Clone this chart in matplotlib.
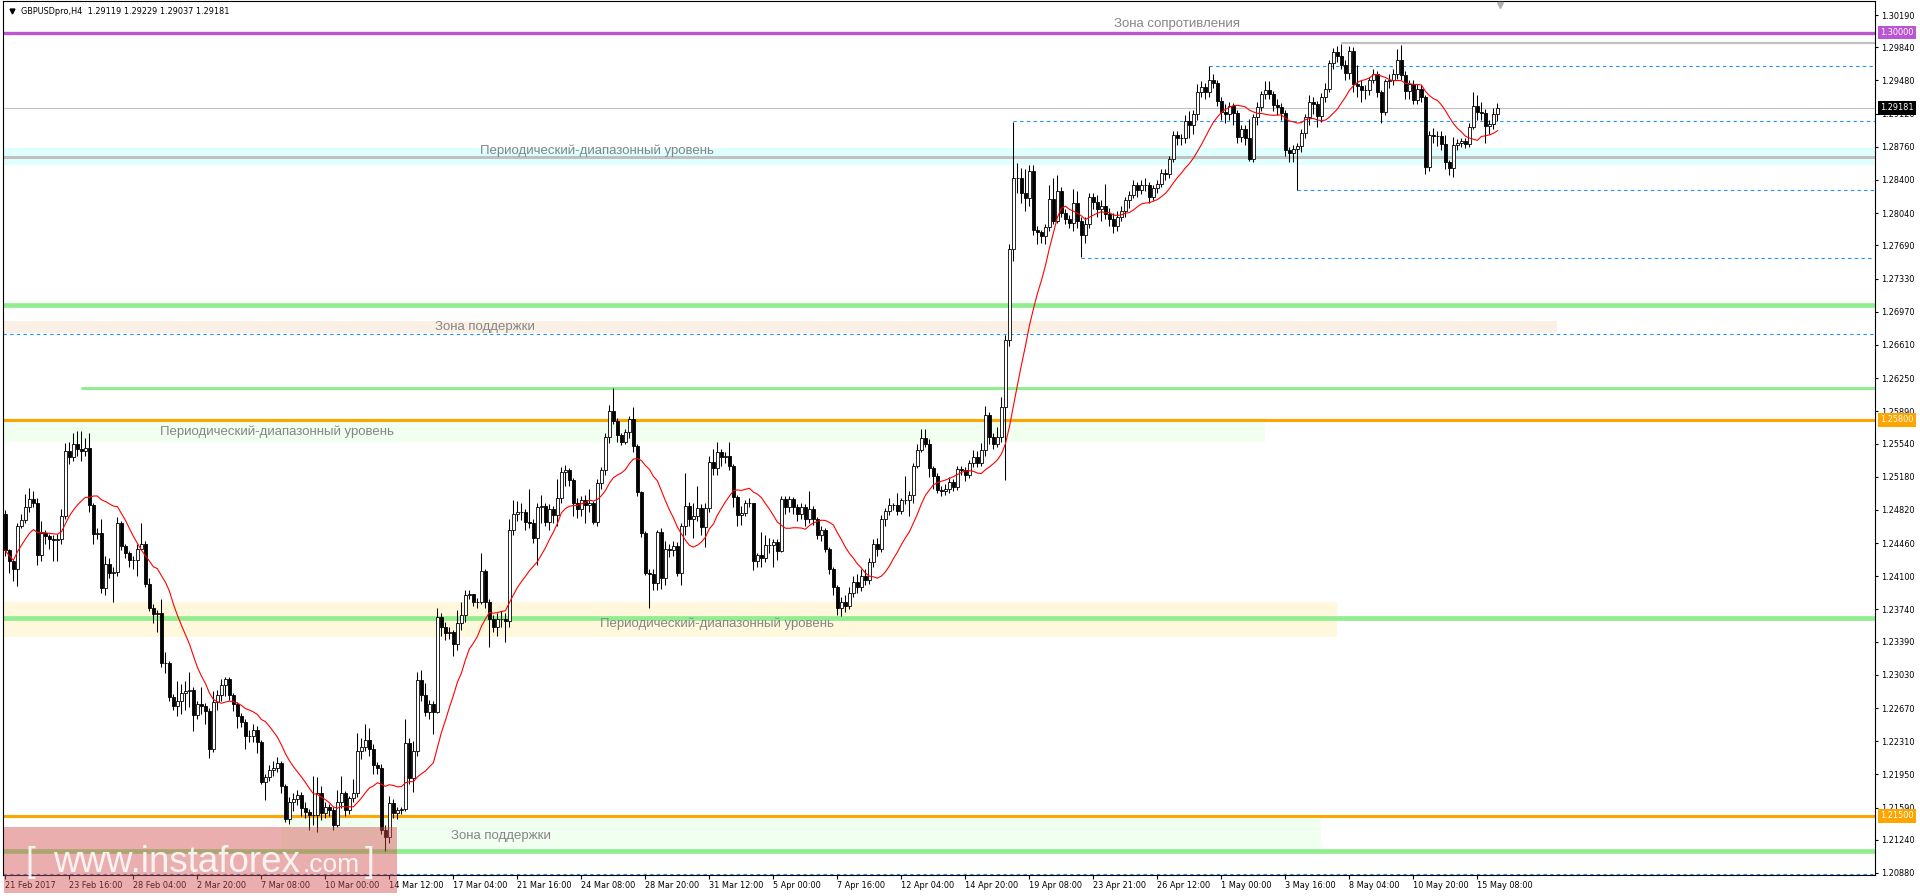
import numpy as np
import pandas as pd
import matplotlib
matplotlib.use("Agg")
import matplotlib.pyplot as plt
from matplotlib.patches import Rectangle
from matplotlib.lines import Line2D
from matplotlib.transforms import blended_transform_factory, ScaledTranslation

# ---- data (prices in pips above 1.2000) ----
BASE = 1.2
PIP = 0.0001

first_open = 478
closes = [
    438, 426, 418, 464, 471, 485, 494, 489, 433, 457,
    454, 450, 449, 450, 475, 546, 539, 553, 548, 546,
    549, 487, 456, 457, 397, 423, 414, 415, 468, 443,
    435, 428, 428, 440, 445, 402, 376, 369, 370, 316,
    316, 279, 269, 275, 283, 285, 287, 259, 271, 269,
    264, 223, 273, 281, 292, 298, 281, 271, 258, 252,
    237, 237, 243, 230, 187, 192, 200, 202, 207, 182,
    147, 165, 168, 173, 158, 154, 151, 151, 175, 153,
    160, 156, 140, 165, 175, 156, 169, 175, 220, 225,
    232, 223, 205, 202, 135, 127, 164, 153, 156, 157,
    229, 191, 220, 297, 281, 263, 271, 263, 366, 355,
    348, 350, 337, 359, 368, 390, 391, 382, 382, 416,
    382, 364, 355, 364, 364, 361, 460, 478, 480, 480,
    469, 468, 451, 485, 486, 469, 483, 476, 495, 523,
    525, 514, 489, 483, 493, 487, 490, 469, 511, 525,
    561, 589, 578, 563, 556, 566, 581, 551, 501, 457,
    414, 412, 403, 458, 408, 440, 438, 443, 414, 464,
    486, 472, 475, 484, 463, 484, 534, 527, 545, 539,
    540, 530, 496, 476, 479, 489, 490, 426, 433, 430,
    444, 444, 447, 437, 494, 485, 494, 485, 478, 485,
    472, 483, 472, 455, 460, 440, 418, 398, 375, 382,
    378, 392, 404, 398, 410, 406, 425, 445, 440, 472,
    481, 487, 487, 481, 493, 493, 498, 530, 547, 560,
    554, 527, 519, 504, 503, 505, 512, 507, 526, 525,
    520, 533, 539, 533, 547, 585, 561, 554, 561, 594,
    666, 765, 842, 842, 826, 820, 850, 786, 784, 779,
    789, 819, 796, 828, 804, 798, 793, 815, 795, 780,
    792, 822, 816, 808, 812, 803, 798, 790, 800, 806,
    818, 824, 835, 829, 835, 835, 822, 831, 836, 848,
    846, 863, 889, 886, 885, 904, 900, 912, 935, 941,
    935, 949, 945, 926, 914, 912, 920, 913, 887, 895,
    886, 863, 908, 919, 933, 938, 933, 921, 919, 913,
    872, 869, 874, 877, 891, 908, 925, 922, 909, 930,
    939, 967, 979, 975, 965, 956, 980, 944, 942, 938,
    938, 949, 955, 935, 914, 947, 948, 955, 970, 954,
    936, 944, 927, 939, 930, 854, 889, 888, 888, 879,
    860, 853, 878, 880, 882, 879, 898, 920, 914, 913,
    899, 901, 912, 918,
]
highs = [
    482, 440, 428, 468, 478, 499, 506, 502, 495, 470,
    460, 456, 455, 456, 483, 555, 556, 565, 568, 568,
    560, 565, 490, 462, 472, 432, 430, 420, 474, 470,
    445, 437, 432, 445, 468, 448, 408, 380, 373, 385,
    328, 318, 282, 296, 293, 296, 306, 290, 275, 290,
    272, 267, 285, 287, 298, 301, 301, 283, 273, 262,
    255, 243, 250, 248, 232, 195, 205, 210, 214, 209,
    185, 170, 175, 178, 176, 165, 157, 193, 192, 182,
    165, 163, 160, 178, 193, 177, 172, 190, 240, 234,
    250, 245, 228, 208, 206, 140, 172, 168, 160, 160,
    255, 234, 231, 306, 308, 294, 276, 275, 375, 370,
    360, 355, 352, 373, 382, 395, 395, 391, 386, 435,
    418, 385, 368, 370, 372, 370, 472, 493, 492, 490,
    483, 505, 472, 489, 498, 490, 488, 486, 516, 529,
    531, 527, 517, 495, 497, 498, 505, 492, 515, 529,
    565, 596, 614, 582, 565, 570, 584, 594, 554, 503,
    459, 418, 418, 460, 462, 448, 445, 448, 447, 468,
    522, 491, 490, 508, 488, 490, 540, 548, 556, 548,
    545, 556, 532, 498, 486, 493, 495, 490, 435, 458,
    455, 452, 450, 450, 497, 497, 497, 496, 488, 490,
    488, 503, 486, 474, 465, 462, 442, 420, 400, 388,
    390, 398, 410, 412, 418, 418, 430, 450, 452, 476,
    484, 495, 490, 500, 495, 519, 502, 533, 554, 570,
    570, 559, 530, 522, 508, 510, 518, 516, 530, 530,
    528, 536, 547, 546, 555, 595, 588, 565, 572, 605,
    672, 771, 903, 858, 853, 852, 856, 856, 790, 786,
    792, 834, 842, 845, 832, 808, 802, 830, 828, 800,
    800, 826, 826, 824, 818, 836, 810, 804, 806, 812,
    822, 828, 840, 838, 840, 842, 838, 835, 840, 852,
    852, 866, 893, 893, 890, 910, 915, 916, 944, 947,
    945, 964, 955, 948, 930, 922, 925, 924, 916, 900,
    900, 906, 912, 925, 936, 947, 947, 937, 928, 924,
    916, 876, 878, 880, 895, 912, 932, 930, 926, 934,
    945, 970, 983, 985, 988, 970, 985, 984, 965, 948,
    943, 952, 960, 958, 938, 950, 955, 960, 982, 986,
    958, 948, 948, 944, 943, 932, 893, 896, 893, 893,
    889, 862, 887, 884, 886, 886, 902, 935, 932, 925,
    917, 905, 918, 923,
]
lows = [
    432, 414, 405, 399, 462, 468, 480, 485, 422, 426,
    445, 440, 426, 426, 445, 472, 532, 535, 540, 535,
    540, 480, 445, 450, 392, 390, 408, 382, 410, 438,
    430, 420, 418, 410, 438, 398, 372, 359, 349, 312,
    305, 275, 265, 258, 260, 265, 268, 242, 255, 260,
    250, 213, 219, 265, 275, 280, 276, 264, 245, 246,
    222, 230, 230, 218, 185, 167, 188, 193, 198, 175,
    143, 141, 155, 162, 150, 148, 135, 140, 133, 145,
    148, 150, 135, 138, 158, 150, 152, 165, 170, 212,
    220, 215, 195, 195, 130, 112, 120, 148, 147, 152,
    155, 185, 176, 215, 275, 258, 255, 239, 262, 345,
    341, 342, 323, 330, 352, 360, 385, 378, 376, 380,
    375, 333, 350, 345, 355, 339, 355, 455, 470, 471,
    460, 462, 446, 422, 468, 464, 460, 468, 465, 490,
    508, 508, 475, 473, 475, 468, 480, 467, 465, 505,
    520, 555, 575, 556, 552, 553, 560, 545, 497, 453,
    411, 375, 395, 395, 396, 400, 431, 432, 410, 401,
    455, 465, 452, 470, 455, 442, 480, 520, 520, 530,
    533, 525, 485, 465, 466, 475, 485, 417, 420, 420,
    425, 435, 420, 428, 436, 478, 480, 478, 470, 472,
    465, 468, 466, 450, 448, 436, 412, 390, 368, 367,
    371, 374, 388, 392, 394, 400, 402, 420, 432, 436,
    465, 476, 482, 476, 478, 488, 475, 490, 527, 545,
    550, 518, 505, 500, 497, 498, 500, 502, 504, 520,
    513, 517, 529, 528, 530, 540, 553, 548, 550, 556,
    514, 660, 752, 826, 815, 806, 812, 780, 770, 772,
    771, 785, 792, 793, 800, 792, 788, 785, 788, 756,
    772, 788, 808, 800, 796, 798, 790, 782, 785, 795,
    800, 810, 820, 822, 825, 828, 815, 818, 826, 832,
    840, 842, 860, 878, 878, 880, 885, 890, 905, 930,
    928, 930, 940, 920, 905, 902, 905, 900, 880, 881,
    878, 861, 860, 900, 915, 928, 928, 915, 910, 905,
    866, 860, 860, 829, 870, 885, 900, 912, 898, 903,
    925, 935, 960, 968, 960, 948, 950, 935, 930, 925,
    928, 932, 945, 930, 902, 910, 940, 943, 950, 948,
    928, 928, 922, 922, 925, 847, 850, 880, 877, 872,
    852, 845, 843, 872, 876, 875, 876, 895, 905, 905,
    880, 890, 895, 904,
]

price_ticks = [1.30190, 1.29840, 1.29480, 1.29120, 1.28760, 1.28400, 1.28040,
               1.27690, 1.27330, 1.26970, 1.26610, 1.26250, 1.25890, 1.25540,
               1.25180, 1.24820, 1.24460, 1.24100, 1.23740, 1.23390, 1.23030,
               1.22670, 1.22310, 1.21950, 1.21590, 1.21240, 1.20880]

date_labels = ["21 Feb 2017", "23 Feb 16:00", "28 Feb 04:00", "2 Mar 20:00",
               "7 Mar 08:00", "10 Mar 00:00", "14 Mar 12:00", "17 Mar 04:00",
               "21 Mar 16:00", "24 Mar 08:00", "28 Mar 20:00", "31 Mar 12:00",
               "5 Apr 00:00", "7 Apr 16:00", "12 Apr 04:00", "14 Apr 20:00",
               "19 Apr 08:00", "23 Apr 21:00", "26 Apr 12:00", "1 May 00:00",
               "3 May 16:00", "8 May 04:00", "10 May 20:00", "15 May 08:00"]
bars_per_label = 16

header = "GBPUSDpro,H4  1.29119 1.29229 1.29037 1.29181"
last_price = 1.29181

# level lines drawn on the chart
resistance = 1.30000
orange_levels = [1.25800, 1.21500]
green_thick = [1.2704, 1.2365, 1.2112]
green_thin = 1.2614
grey_mid = 1.2865
grey_top = 1.2989
# dotted levels: (price, first bar)
dotted_prices = [1.2964, 1.2904, 1.2829, 1.2755, 1.2673, 1.2087]
dotted_starts = [301, 252, 323, 269, 0, 0]

assert len(closes) == len(highs) == len(lows)

c = BASE + np.array(closes) * PIP
h = BASE + np.array(highs) * PIP
l = BASE + np.array(lows) * PIP
o = np.r_[BASE + first_open * PIP, c[:-1]]
h = np.maximum(h, np.maximum(o, c))
l = np.minimum(l, np.minimum(o, c))
x = np.arange(len(c))
ma = pd.Series(c).rolling(14, min_periods=1).mean()

# ---- figure ----
W, H = 1920, 896
fig = plt.figure(figsize=(W / 100, H / 100), dpi=100, facecolor="white")
ax = fig.add_axes([3 / W, (H - 875) / H, (1875 - 3) / W, (875 - 1) / H])

scale = 0.00010851
ax.set_ylim(1.30190 - (875 - 15) * scale, 1.30190 + (15 - 1) * scale)
ax.set_xlim(-0.6, 467.4)
xmax = 467.4

# bands
ax.axhspan(1.2856, 1.2875, color="#E0FFFF", lw=0, zorder=0.5)
ax.fill_between([-0.6, 388], 1.2674, 1.2687, color="#FAF0E6", lw=0, zorder=0.5)
ax.fill_between([-0.6, 315], 1.2556, 1.2582, color="#F0FFF0", lw=0, zorder=0.5)
ax.fill_between([-0.6, 333], 1.2344, 1.2382, color="#FFF8DC", lw=0, zorder=0.5)
ax.fill_between([69, 329], 1.2112, 1.2149, color="#F0FFF0", lw=0, zorder=0.5)

# lines
ax.axhline(resistance, color="#BA55D3", lw=2.4, zorder=2)
for p in orange_levels:
    ax.axhline(p, color="#FFA500", lw=2.2, zorder=2)
for p in green_thick:
    ax.axhline(p, color="#90EE90", lw=3.4, zorder=2)
ax.hlines(green_thin, 19, xmax, color="#90EE90", lw=2.2, zorder=2)
ax.axhline(grey_mid, color="#C0C0C0", lw=2.2, zorder=2)
ax.hlines(grey_top, 334, xmax, color="#C0C0C0", lw=1.6, zorder=2)
ax.axhline(last_price, color="#C0C0C0", lw=0.8, zorder=2)
for p, s in zip(dotted_prices, dotted_starts):
    ax.hlines(p, s - 0.6 if s == 0 else s, xmax, color="#1E90FF", lw=0.8,
              linestyles=(0, (3, 3)), zorder=2)

# candles
up = c >= o
ax.vlines(x, l, h, color="black", lw=0.75, zorder=3)
ax.bar(x, c - o, bottom=o, width=0.6,
       color=np.where(up, "white", "black"), edgecolor="black",
       linewidth=0.6, zorder=4)
ax.plot(x, ma, color="red", lw=0.8, zorder=5)

# zone captions
tkw = dict(fontsize=9.5, color="#858585", family="Liberation Sans",
           ha="center", va="center", zorder=2.5)
ax.text(293, 1.30095, "Зона сопротивления", **tkw)
ax.text(148, 1.28714, "Периодический-диапазонный уровень", **tkw)
ax.text(120, 1.26805, "Зона поддержки", **tkw)
ax.text(68, 1.2567, "Периодический-диапазонный уровень", **tkw)
ax.text(178, 1.2358, "Периодический-диапазонный уровень", **tkw)
ax.text(124, 1.2128, "Зона поддержки", **tkw)

# axes styling
for sp in ax.spines.values():
    sp.set_linewidth(0.8)
    sp.set_color("black")
ax.yaxis.tick_right()
ax.set_yticks(price_ticks)
ax.set_yticklabels([f"{v:.5f}" for v in price_ticks])
ax.tick_params(axis="y", direction="out", length=2.5, width=0.8, pad=2,
               labelsize=5.9)
ax.set_xticks(np.arange(len(date_labels)) * bars_per_label)
ax.set_xticklabels(date_labels)
ax.tick_params(axis="x", direction="out", length=3, width=0.8, pad=1.5,
               labelsize=5.9)
plt.setp(ax.get_xticklabels(), ha="left")

# price boxes on the right scale
btrans = blended_transform_factory(ax.transAxes, ax.transData) + \
    ScaledTranslation(5 / 100, 0, fig.dpi_scale_trans)
for val, col in [(resistance, "#BA55D3"), (last_price, "black"),
                 (orange_levels[0], "#FFA500"), (orange_levels[1], "#FFA500")]:
    ax.text(1.0, val, f"{val:.5f}", transform=btrans, ha="left", va="center",
            fontsize=5.9, color="white", clip_on=False, zorder=10,
            bbox=dict(boxstyle="square,pad=0.3", fc=col, ec="none"))

# header
fig.add_artist(Line2D([12 / W], [1 - 11 / H], marker="v", color="black",
                      markersize=3.5, transform=fig.transFigure))
fig.text(21 / W, 1 - 11 / H, header, fontsize=5.9, va="center", ha="left")
fig.add_artist(Line2D([1500 / W], [1 - 5 / H], marker="v", color="#b0b0b0",
                      markersize=4, transform=fig.transFigure))

# watermark
fig.add_artist(Rectangle((4 / W, 3 / H), 393 / W, 66 / H,
                         transform=fig.transFigure, fc=(0.82, 0.3, 0.3),
                         alpha=0.45, ec="none", zorder=10))
wkw = dict(color="white", alpha=0.85, family="Liberation Sans",
           va="baseline", ha="left", zorder=11)
base_y = (H - 872) / H
fig.text(25 / W, base_y, "[", fontsize=25, **wkw)
fig.text(53 / W, base_y, "www.instaforex", fontsize=26.5, **wkw)
fig.text(303 / W, base_y, ".com", fontsize=19, **wkw)
fig.text(365 / W, base_y, "]", fontsize=25, **wkw)

fig.savefig("out.png", dpi=100, facecolor="white")
